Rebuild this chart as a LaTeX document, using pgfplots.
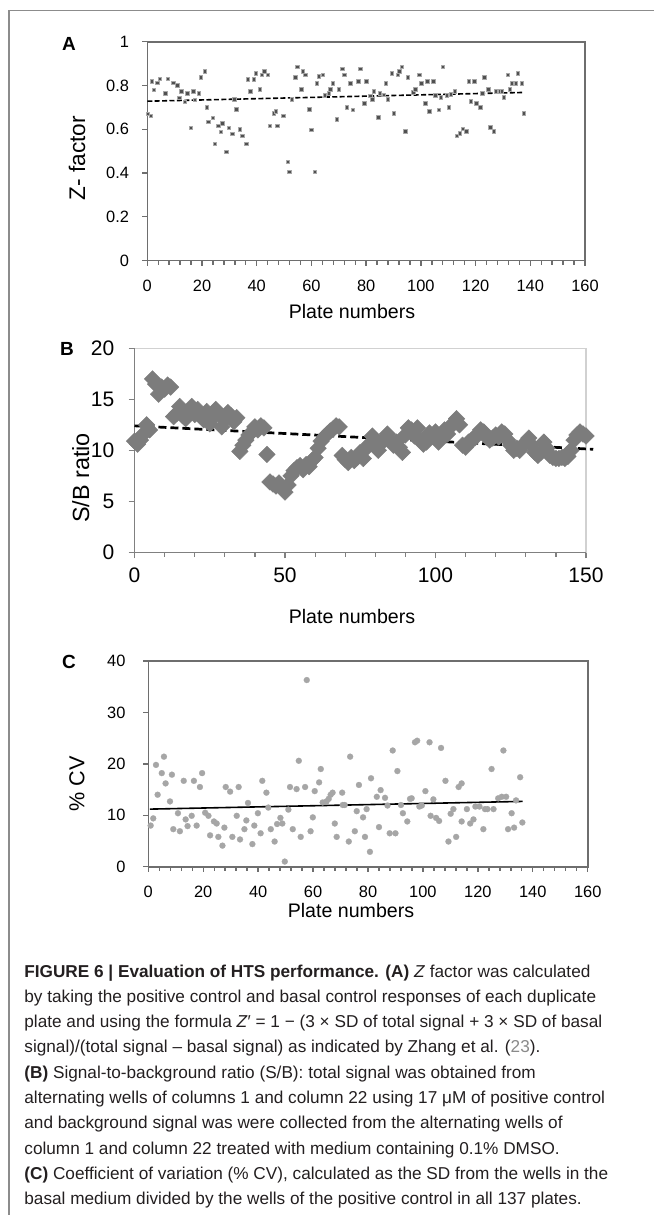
\documentclass[border=0pt]{standalone}
\usepackage{fontspec}
\setmainfont{Liberation Sans}
\usepackage{pgfplots}
\usepackage{pgfplotstable}
\pgfplotsset{compat=1.18}
\definecolor{framegray}{HTML}{8C8C8C}
\definecolor{axgray}{HTML}{6E6E6E}
\definecolor{zmark}{HTML}{505050}
\definecolor{sbmark}{HTML}{7C7C7C}
\definecolor{cvmark}{HTML}{A6A6A6}
\definecolor{captxt}{HTML}{231F20}
\definecolor{refgray}{HTML}{8A8A8A}

\pgfplotstableread{
x y
0.3 0.670
1.35 0.662
1.6 0.818
2.45 0.780
3.7 0.811
4.6 0.829
6.6 0.763
7.45 0.829
9.5 0.812
11.0 0.801
11.7 0.742
12.45 0.773
13.8 0.725
14.6 0.763
16.0 0.607
16.8 0.773
17.4 0.735
18.9 0.763
19.6 0.836
21.1 0.865
21.8 0.700
22.4 0.634
23.9 0.652
24.7 0.534
26.0 0.616
26.8 0.589
27.5 0.627
28.9 0.497
29.8 0.607
31.1 0.579
31.9 0.736
32.5 0.690
33.9 0.599
34.7 0.570
36.2 0.534
36.8 0.827
37.7 0.773
39.0 0.827
39.8 0.856
41.2 0.782
41.9 0.847
42.8 0.865
44.1 0.847
44.8 0.616
46.3 0.672
47.0 0.681
47.6 0.616
49.8 0.662
51.3 0.450
52.0 0.405
52.8 0.736
54.1 0.836
54.8 0.884
56.3 0.782
56.8 0.864
57.8 0.847
59.2 0.690
60.0 0.598
61.3 0.405
62.0 0.809
62.8 0.841
64.2 0.847
65.0 0.754
66.3 0.763
67.0 0.782
67.8 0.809
69.2 0.645
70.1 0.782
71.3 0.875
72.1 0.847
72.9 0.700
74.2 0.809
75.1 0.689
77.1 0.818
77.9 0.875
79.3 0.718
80.1 0.818
81.5 0.753
82.3 0.736
82.9 0.773
84.5 0.654
85.1 0.763
86.5 0.757
87.3 0.809
88.0 0.736
89.5 0.856
90.1 0.672
91.5 0.847
92.2 0.865
93.0 0.885
94.4 0.590
95.2 0.836
97.3 0.768
98.0 0.782
99.4 0.847
100.2 0.809
101.6 0.718
102.4 0.818
103.1 0.681
104.6 0.818
105.3 0.754
106.6 0.689
107.4 0.745
108.1 0.884
109.6 0.754
110.3 0.700
111.0 0.760
112.5 0.773
113.1 0.570
114.3 0.581
115.3 0.601
116.7 0.590
117.5 0.818
118.2 0.727
119.6 0.818
120.3 0.718
121.8 0.700
122.5 0.763
123.2 0.836
124.7 0.782
125.4 0.608
126.8 0.590
127.5 0.773
128.9 0.773
129.7 0.773
130.4 0.745
131.9 0.847
132.6 0.782
133.3 0.809
134.8 0.809
135.5 0.856
137.0 0.809
137.6 0.672
}\zdata

\pgfplotstableread{
x y
0 10.9
1 10.6
2 11.0
3 11.6
4 12.5
5 12.0
6 17.0
7 16.5
8 15.5
9 16.2
10 16.0
11 16.4
12 16.2
13 13.3
14 13.6
15 14.3
16 13.4
17 13.1
18 13.8
19 14.3
20 13.5
21 14.0
22 13.3
23 13.0
24 13.8
25 12.6
26 13.2
27 14.0
28 13.5
29 12.3
30 13.0
31 13.7
32 13.4
33 12.8
34 13.2
35 9.9
36 10.5
37 11.0
38 11.5
39 11.8
40 12.3
41 12.0
42 12.4
43 12.2
44 9.6
45 6.9
46 6.7
47 6.5
48 6.8
49 6.3
50 5.9
51 6.6
52 7.5
53 8.0
54 8.3
55 8.5
56 8.1
57 8.6
58 8.4
59 9.0
60 9.3
61 10.2
62 10.9
63 11.3
64 11.6
65 11.9
66 12.1
67 12.4
68 12.3
69 9.5
70 9.1
71 8.8
72 9.3
73 9.0
74 9.3
75 9.8
76 9.2
77 10.2
78 10.6
79 11.4
80 10.4
81 10.0
82 10.8
83 11.0
84 11.6
85 11.0
86 10.5
87 10.8
88 10.3
89 9.8
90 11.5
91 12.2
92 12.0
93 11.4
94 12.2
95 11.0
96 10.6
97 10.8
98 11.7
99 11.4
100 11.8
101 10.8
102 11.2
103 12.0
104 11.6
105 12.3
106 12.7
107 13.1
108 12.5
109 10.5
110 10.3
111 10.8
112 11.0
113 11.2
114 11.6
115 12.0
116 11.8
117 11.3
118 11.0
119 11.2
120 11.5
121 11.3
122 11.8
123 11.6
124 11.0
125 10.5
126 10.0
127 10.2
128 10.0
129 10.5
130 10.8
131 11.2
132 10.5
133 9.8
134 9.5
135 9.8
136 10.8
137 10.2
138 9.5
139 9.3
140 9.2
141 9.2
142 9.3
143 9.2
144 9.4
145 10.0
146 11.0
147 11.5
148 11.8
149 11.6
150 11.4
}\sbdata

\pgfplotstableread{
x y
0.86 8.0
1.8 9.4
2.8 19.8
3.4 14.0
4.9 18.2
5.7 21.4
6.3 16.2
7.9 12.7
8.6 17.9
9.1 7.3
10.8 10.4
11.5 6.9
12.9 16.7
13.6 9.2
14.3 7.9
15.8 9.9
16.6 16.7
17.6 8.0
18.8 15.5
19.6 18.2
20.7 10.5
21.9 9.9
22.5 6.1
23.9 8.8
24.9 8.4
25.5 5.8
27.0 4.1
27.7 7.6
28.2 15.5
29.8 14.6
30.6 5.8
32.2 9.9
32.9 15.5
33.4 5.3
35.0 7.3
35.7 9.0
36.3 12.4
37.9 4.4
38.6 8.0
39.9 10.4
40.9 6.5
41.5 16.7
43.0 14.4
43.7 11.5
44.6 7.3
46.0 4.9
46.9 8.3
48.1 9.5
48.8 8.4
49.7 1.0
51.0 11.1
51.6 15.5
52.6 7.3
54.0 15.1
54.8 20.6
55.5 5.8
57.1 15.5
57.7 36.3
59.1 6.9
59.9 9.6
60.6 14.7
62.2 16.4
62.8 19.0
63.5 12.5
64.9 12.7
65.7 13.2
66.4 14.0
67.1 14.4
67.9 8.4
68.6 5.8
70.6 14.4
70.8 12.0
71.5 12.0
73.0 4.9
73.5 21.4
75.2 6.9
75.9 10.8
76.7 15.9
78.2 9.6
78.9 5.8
79.5 11.2
80.7 2.9
81.1 17.2
83.2 13.6
84.0 7.7
84.6 14.9
86.2 13.4
87.1 11.9
87.9 6.5
89.0 22.6
90.0 6.5
90.7 18.6
92.0 12.0
92.7 10.4
94.3 8.8
95.3 13.2
95.9 13.3
97.1 24.2
97.9 24.5
98.7 11.7
99.6 11.9
100.9 14.7
102.4 24.2
102.8 9.9
103.8 13.1
104.8 9.5
105.9 8.9
106.6 23.1
108.2 16.7
109.3 4.9
110.1 10.3
111.1 11.2
112.1 5.8
113.0 15.5
114.1 16.2
114.1 8.8
116.0 11.2
117.2 8.4
118.4 9.2
119.1 11.7
120.6 11.7
122.0 7.3
122.6 11.2
123.5 11.2
125.0 19.0
125.7 11.2
127.4 13.3
128.7 13.6
129.3 22.6
130.3 13.6
131.0 7.3
132.3 10.4
133.2 7.6
133.9 12.9
135.4 17.4
136.2 8.6
}\cvdata

\pgfplotsset{
  refstyle/.style={
    scale only axis, anchor=south west,
    tick align=outside, tick pos=left,
    axis line style={axgray, line width=0.8pt},
    every tick/.style={axgray, line width=0.7pt},
    major tick length=2.6pt, minor tick length=2pt,
    /pgf/number format/assume math mode=true,
    tick label style={text=black},
  }
}

\begin{document}
\begin{tikzpicture}
\useasboundingbox (0,0) rectangle (327pt,-607.5pt);
\draw[framegray, line width=0.75pt] (4.5pt,-607.5pt) -- (4.5pt,-5.25pt) -- (327pt,-5.25pt);

% ---------- Panel A ----------
\begin{axis}[refstyle,
  at={(73.65pt,-130.25pt)}, width=218.85pt, height=109.4pt,
  xmin=0, xmax=160, ymin=0, ymax=1,
  xtick={0,20,...,160}, minor xtick={0,4,...,160},
  ytick={0,0.2,0.4,0.6,0.8,1},
  tick label style={font=\fontsize{8.2}{9}\selectfont},
  xticklabel style={yshift=-3.5pt},
  yticklabel style={xshift=-3pt},
]
\addplot[only marks, mark=square*, mark size=0.85pt,
  mark options={fill=zmark, draw=zmark!50!white, line width=0.4pt}] table {\zdata};
\addplot[black, line width=0.8pt, dash pattern=on 2.5pt off 1.2pt] coordinates {(0,0.728) (137.5,0.768)};
\end{axis}

% ---------- Panel B ----------
\begin{axis}[refstyle,
  at={(67.25pt,-276.15pt)}, width=225.75pt, height=102pt,
  xmin=0, xmax=150, ymin=0, ymax=20,
  xtick={0,50,100,150}, minor xtick={0,10,...,150},
  ytick={0,5,10,15,20},
  axis line style={draw=black!18, line width=0.8pt},
  every tick/.style={black!50, line width=0.6pt},
  major tick length=3pt, minor tick length=2.2pt,
  tick label style={font=\fontsize{10.5}{12}\selectfont},
  xticklabel style={yshift=-1pt},
  yticklabel style={xshift=-3.6pt},
  clip=false,
]
\addplot[only marks, mark=square*, mark size=2.93pt,
  mark options={rotate=45, draw=sbmark, line width=0.2pt, fill=sbmark}] table {\sbdata};
\draw[black!50, line width=0.6pt] (rel axis cs:0,1) -- (rel axis cs:0,0) -- (rel axis cs:1,0);
\addplot[black, line width=1.35pt, dash pattern=on 4pt off 2pt] coordinates {(0,12.4) (152.4,10.1)};
\end{axis}

% ---------- Panel C ----------
\begin{axis}[refstyle,
  at={(74.15pt,-433.35pt)}, width=219.7pt, height=102.85pt,
  xmin=0, xmax=160, ymin=0, ymax=40,
  xtick={0,20,...,160}, minor xtick={0,4,...,160},
  ytick={0,10,20,30,40},
  tick label style={font=\fontsize{8.2}{9}\selectfont},
  xticklabel style={yshift=-3.5pt},
  yticklabel style={xshift=-5.3pt},
]
\addplot[only marks, mark=*, mark size=1.5pt,
  mark options={fill=cvmark, draw=cvmark, line width=0.1pt}] table {\cvdata};
\addplot[black, line width=0.8pt] coordinates {(0.6,11.2) (136.3,12.7)};
\end{axis}

% ---------- Labels ----------
\node[font=\bfseries\fontsize{9.5}{11}\selectfont] at (34.5pt,-21.75pt) {A};
\node[font=\bfseries\fontsize{9.5}{11}\selectfont] at (33.5pt,-174.5pt) {B};
\node[font=\bfseries\fontsize{9.5}{11}\selectfont] at (34.5pt,-330.75pt) {C};

\node[rotate=90, font=\fontsize{11.3}{13}\selectfont] at (38.5pt,-79pt) {Z- factor};
\node[rotate=90, font=\fontsize{11.7}{13}\selectfont] at (40.35pt,-239pt) {S/B ratio};
\node[rotate=90, font=\fontsize{10.8}{13}\selectfont] at (38.5pt,-392pt) {\% CV};

\node[anchor=base, font=\fontsize{9.8}{12}\selectfont] at (176pt,-159pt) {Plate numbers};
\node[anchor=base, font=\fontsize{9.8}{12}\selectfont] at (176pt,-311.5pt) {Plate numbers};
\node[anchor=base, font=\fontsize{9.8}{12}\selectfont] at (175.5pt,-458.5pt) {Plate numbers};

% ---------- Caption ----------
\begin{scope}[every node/.style={anchor=base west, inner sep=0pt, text=captxt, font=\fontsize{8.6}{10}\selectfont}]
\node at (12pt,-488.5pt) {\textbf{FIGURE 6 | Evaluation of HTS performance. (A)} \textit{Z} factor was calculated};
\node at (12pt,-501.15pt) {by taking the positive control and basal control responses of each duplicate};
\node at (12pt,-513.8pt) {plate and using the formula \textit{Z}′ = 1 − (3 × SD of total signal + 3 × SD of basal};
\node at (12pt,-526.45pt) {signal)/(total signal – basal signal) as indicated by Zhang et al. ({\color{refgray}23}).};
\node at (12pt,-539.1pt) {\textbf{(B)} Signal-to-background ratio (S/B): total signal was obtained from};
\node at (12pt,-551.75pt) {alternating wells of columns 1 and column 22 using 17 μM of positive control};
\node at (12pt,-564.4pt) {and background signal was were collected from the alternating wells of};
\node at (12pt,-577.05pt) {column 1 and column 22 treated with medium containing 0.1\% DMSO.};
\node at (12pt,-589.7pt) {\textbf{(C)} Coefficient of variation (\% CV), calculated as the SD from the wells in the};
\node at (12pt,-602.35pt) {basal medium divided by the wells of the positive control in all 137 plates.};
\end{scope}
\end{tikzpicture}
\end{document}
